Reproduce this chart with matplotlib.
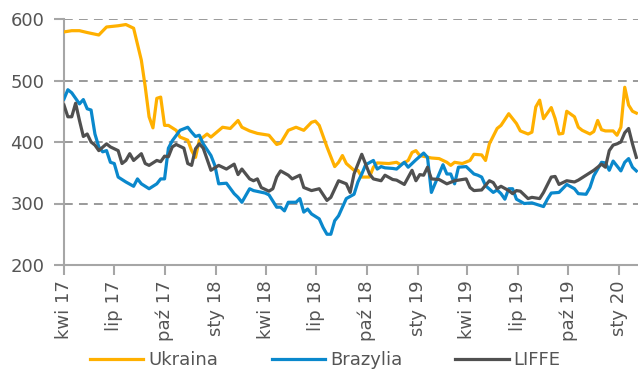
import numpy as np
import pandas as pd
import matplotlib
matplotlib.use('Agg')
import matplotlib.pyplot as plt

# ceny cukru (tygodniowe notowania), numer tygodnia liczony od 1 IV 2017
start = pd.Timestamp('2017-04-01')

ua_week = [0, 2, 4, 6, 9, 11, 14, 16, 18, 20, 21, 22, 23, 24, 25, 26, 27, 29, 30,
           32, 33, 34, 35, 37, 38, 41, 43, 45, 46, 48, 50, 53, 55, 56, 58, 60, 62,
           64, 65, 66, 68, 70, 71, 72, 73, 75, 76, 77, 79, 80, 81, 84, 86, 87, 89,
           90, 91, 92, 95, 97, 99, 100, 101, 103, 105, 106, 108, 109, 110, 112,
           113, 115, 117, 118, 120, 121, 122, 123, 124, 126, 127, 128, 129, 130,
           132, 133, 134, 136, 137, 138, 139, 140, 142, 143, 144, 145, 146, 147, 148]
ua_val = [579, 581, 581, 578, 574, 587, 589, 591, 585, 533, 490, 441, 423, 471, 473,
          427, 427, 419, 408, 403, 386, 375, 403, 413, 408, 424, 422, 435, 424, 418,
          414, 411, 396, 398, 419, 424, 419, 432, 434, 427, 392, 360, 367, 378, 365,
          354, 354, 343, 343, 359, 366, 365, 367, 363, 370, 383, 386, 378, 374, 373,
          367, 362, 367, 365, 370, 380, 379, 370, 397, 422, 427, 446, 430, 418, 413,
          416, 457, 468, 438, 456, 438, 413, 414, 450, 441, 424, 419, 413, 417, 435,
          420, 418, 418, 411, 424, 489, 460, 450, 447]

br_week = [0, 1, 2, 4, 5, 6, 7, 8, 9, 10, 11, 12, 13, 14, 16, 18, 19, 20, 22, 24,
           25, 26, 27, 28, 30, 32, 33, 34, 35, 36, 38, 39, 40, 42, 44, 45, 46, 48,
           49, 52, 53, 55, 56, 57, 58, 60, 61, 62, 63, 64, 66, 67, 68, 69, 70, 71,
           73, 75, 76, 77, 78, 80, 81, 82, 83, 85, 86, 88, 89, 91, 93, 94, 95, 97,
           98, 99, 100, 101, 102, 104, 106, 107, 108, 109, 111, 112, 113, 114, 115,
           116, 117, 119, 121, 122, 124, 125, 126, 128, 130, 132, 133, 135, 136,
           137, 139, 140, 141, 142, 144, 145, 146, 147, 148]
br_val = [470, 485, 480, 462, 469, 454, 452, 413, 392, 384, 386, 367, 365, 343, 335,
          328, 340, 332, 324, 332, 340, 340, 390, 402, 419, 424, 416, 409, 411, 397,
          378, 362, 332, 333, 316, 310, 302, 324, 321, 317, 314, 294, 294, 288, 302,
          302, 308, 286, 291, 283, 275, 261, 250, 250, 272, 280, 308, 315, 335, 348,
          363, 370, 356, 360, 358, 357, 356, 367, 359, 371, 382, 375, 318, 348, 363,
          348, 348, 332, 359, 360, 348, 346, 343, 329, 318, 322, 316, 307, 324, 324,
          307, 300, 301, 299, 295, 307, 317, 318, 331, 324, 316, 315, 326, 345, 367,
          366, 354, 369, 353, 367, 373, 359, 353]

lf_week = [0, 1, 2, 3, 4, 5, 6, 7, 8, 9, 11, 12, 14, 15, 16, 17, 18, 20, 21, 22, 24,
           25, 26, 27, 28, 29, 31, 32, 33, 34, 35, 36, 38, 39, 40, 42, 44, 45, 46,
           48, 49, 50, 51, 53, 54, 55, 56, 58, 59, 61, 62, 64, 66, 68, 69, 71, 73,
           74, 75, 77, 79, 80, 82, 83, 85, 86, 88, 90, 91, 92, 93, 94, 95, 97, 99,
           101, 104, 105, 106, 108, 110, 111, 112, 113, 115, 116, 117, 118, 120,
           121, 123, 124, 126, 127, 128, 130, 132, 133, 135, 137, 138, 139, 140,
           141, 142, 143, 144, 145, 146, 147, 148]
lf_val = [460, 441, 441, 463, 435, 409, 413, 400, 395, 386, 397, 392, 386, 365, 370,
          381, 370, 381, 365, 362, 370, 368, 377, 376, 392, 396, 390, 365, 362, 389,
          397, 390, 354, 358, 362, 356, 364, 347, 356, 340, 337, 340, 326, 320, 324,
          343, 353, 346, 340, 346, 326, 321, 324, 305, 310, 337, 332, 318, 348, 380,
          348, 340, 337, 346, 339, 338, 331, 354, 337, 347, 346, 359, 340, 339, 332,
          337, 340, 326, 321, 322, 337, 334, 324, 328, 321, 316, 321, 320, 308, 310,
          308, 318, 343, 344, 331, 337, 335, 338, 346, 354, 359, 364, 359, 386, 395,
          397, 400, 415, 422, 397, 375]

tick_dates = ['2017-04-01', '2017-07-01', '2017-10-01', '2018-01-01', '2018-04-01',
              '2018-07-01', '2018-10-01', '2019-01-01', '2019-04-01', '2019-07-01',
              '2019-10-01', '2020-01-01']
tick_labels = ['kwi 17', 'lip 17', 'paź 17', 'sty 18', 'kwi 18', 'lip 18',
               'paź 18', 'sty 19', 'kwi 19', 'lip 19', 'paź 19', 'sty 20']


def weeks_to_dates(weeks):
    return start + pd.to_timedelta(np.array(weeks) * 7, unit='D')


fig = plt.figure(figsize=(6.38, 3.72), dpi=100)
ax = fig.add_axes([64 / 638, 1 - 265 / 372, 1 - 64 / 638, (265 - 19) / 372])

for y in [300, 400, 500, 600]:
    ax.axhline(y, color='#9a9a9a', lw=1.4, ls=(0, (4.5, 3.2)), zorder=1)

ax.plot(weeks_to_dates(ua_week), ua_val, color='#FFB000', lw=2.3, label='Ukraina', zorder=3)
ax.plot(weeks_to_dates(br_week), br_val, color='#0A88CC', lw=2.3, label='Brazylia', zorder=3)
ax.plot(weeks_to_dates(lf_week), lf_val, color='#505050', lw=2.3, label='LIFFE', zorder=4)

ax.set_ylim(200, 600)
ax.set_xlim(start, start + pd.Timedelta(days=1039))
ax.set_yticks([200, 300, 400, 500, 600])
ax.set_xticks(pd.to_datetime(tick_dates))
ax.set_xticklabels(tick_labels, rotation=90)

for s in ['top', 'right']:
    ax.spines[s].set_visible(False)
for s in ['left', 'bottom']:
    ax.spines[s].set_color('#a6a6a6')
    ax.spines[s].set_linewidth(1.5)
ax.tick_params(axis='both', colors='#a6a6a6', width=1.5, length=7,
               labelcolor='#555555', labelsize=13)
ax.tick_params(axis='x', pad=4)
ax.tick_params(axis='y', pad=7)

fig.legend(loc='center', bbox_to_anchor=(0.51, 0.032), ncol=3, frameon=False,
           fontsize=13, handlelength=2.95, columnspacing=2.95, handletextpad=0.28,
           labelcolor='#555555')

fig.savefig('out.png', dpi=100)
